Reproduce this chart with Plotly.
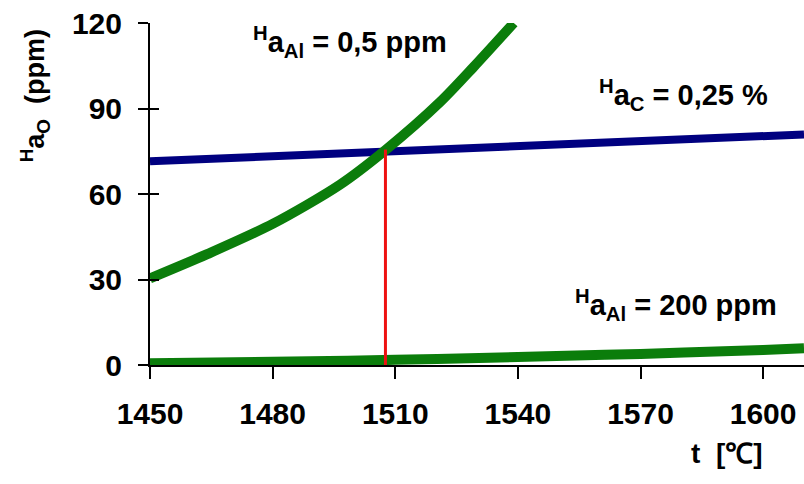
import plotly.graph_objects as go

# data
t_al05 = [1450, 1464, 1480, 1496.5, 1507.6, 1521, 1529, 1539]
a_al05 = [30.4, 38.9, 49.5, 63.3, 75.4, 92.3, 104.3, 120.0]

t_c = [1450, 1610]
a_c = [71.5, 80.9]

t_al200 = [1450, 1480, 1510, 1540, 1570, 1600, 1610]
a_al200 = [0.6, 1.1, 1.8, 2.8, 3.9, 5.3, 5.9]

t_cross = [1507.6, 1507.6]
a_cross = [0, 75.6]

x_ticks = [1450, 1480, 1510, 1540, 1570, 1600]
y_ticks = [0, 30, 60, 90, 120]

GREEN = "#0b7d0b"
NAVY = "#000080"
RED = "#ee1111"
FONT = "Liberation Sans"

fig = go.Figure()
fig.add_trace(go.Scatter(x=t_c, y=a_c, mode="lines",
                         line=dict(color=NAVY, width=8)))
fig.add_trace(go.Scatter(x=t_al05, y=a_al05, mode="lines",
                         line=dict(color=GREEN, width=10, shape="spline", smoothing=0.8)))
fig.add_trace(go.Scatter(x=t_al200, y=a_al200, mode="lines",
                         line=dict(color=GREEN, width=10, shape="spline")))
fig.add_trace(go.Scatter(x=t_cross, y=a_cross, mode="lines",
                         line=dict(color=RED, width=3)))
# invisible trace on overlay axis for inside ticks
fig.add_trace(go.Scatter(x=[1450], y=[0], yaxis="y2", mode="markers",
                         marker=dict(opacity=0), hoverinfo="skip"))

tickfont = dict(family=FONT, size=30, color="black", weight="bold")

fig.update_layout(
    width=804, height=484,
    margin=dict(l=150, r=0, t=23, b=119),
    paper_bgcolor="white", plot_bgcolor="white",
    showlegend=False,
    xaxis=dict(range=[1450, 1610], tickvals=x_ticks, ticks="outside",
               ticklen=12, tickwidth=2, tickcolor="black",
               showline=True, linecolor="black", linewidth=2,
               showgrid=False, zeroline=False, tickfont=tickfont,
               ticklabelstandoff=9),
    yaxis=dict(range=[0, 120], tickvals=y_ticks, ticks="outside",
               ticklen=10, tickwidth=2, tickcolor="black",
               showline=True, linecolor="black", linewidth=2,
               showgrid=False, zeroline=False, tickfont=tickfont,
               ticklabelstandoff=10),
    yaxis2=dict(range=[0, 120], tickvals=y_ticks, ticks="inside",
                ticklen=9, tickwidth=2, tickcolor="black",
                overlaying="y", side="left", showticklabels=False,
                showline=False, showgrid=False, zeroline=False),
)

lab = dict(family=FONT, size=29, color="black", weight="bold")
fig.add_annotation(x=1499, y=113.2, xref="x", yref="y", showarrow=False,
                   text="<sup>H</sup>a<sub>Al</sub> = 0,5 ppm", font=lab)
fig.add_annotation(x=1580.6, y=94.6, xref="x", yref="y", showarrow=False,
                   text="<sup>H</sup>a<sub>C</sub> = 0,25 %", font=lab)
fig.add_annotation(x=1578.6, y=21, xref="x", yref="y", showarrow=False,
                   text="<sup>H</sup>a<sub>Al</sub> = 200 ppm", font=lab)
fig.add_annotation(x=-0.208, y=94.6, xref="paper", yref="y", showarrow=False,
                   textangle=-90,
                   text="<sup>H</sup>a<sub>O</sub>  (ppm)",
                   font=dict(family=FONT, size=27, color="black", weight="bold"))
fig.add_annotation(x=0.94, y=-0.31, xref="paper", yref="paper", showarrow=False,
                   yanchor="bottom",
                   text="t  [℃]",
                   font=dict(family=FONT, size=28, color="black", weight="bold"))

fig.write_html("out.html")
